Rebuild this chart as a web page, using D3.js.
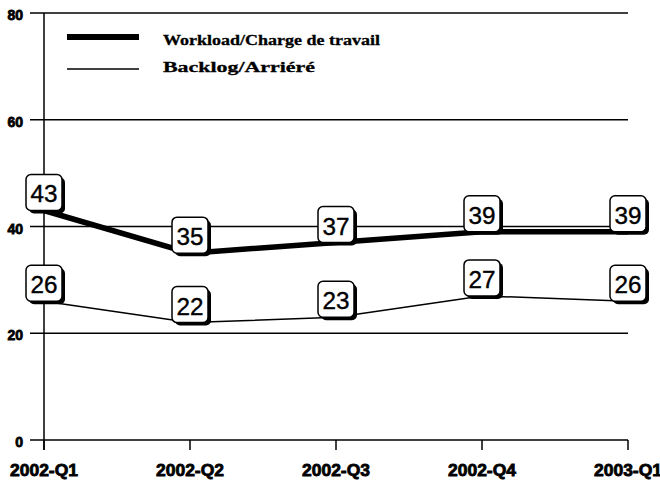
<!DOCTYPE html>
<html lang="en">
<head>
<meta charset="UTF-8">
<title>Workload / Backlog</title>
<script src="https://cdn.jsdelivr.net/npm/d3@7"></script>
<style>
  body { margin: 0; background: #fff; }
  svg { display: block; }
  .tick-label { font-family: "Liberation Sans", Arial, sans-serif; font-weight: bold; fill: #000; stroke: #000; stroke-width: 0.8px; }
  .legend-text { font-family: "Liberation Serif", "Times New Roman", serif; font-weight: bold; font-size: 15px; fill: #000; stroke: #000; stroke-width: 0.3px; }
  .val { font-family: "Liberation Sans", Arial, sans-serif; font-size: 24px; fill: #000; stroke: #000; stroke-width: 0.4px; }
</style>
</head>
<body>
<div id="chart"></div>
<script>
// data
var quarters = ["2002-Q1", "2002-Q2", "2002-Q3", "2002-Q4", "2003-Q1"];
var workload = [43, 35, 37, 39, 39];
var backlog = [26, 22, 23, 27, 26];
var yTicks = [0, 20, 40, 60, 80];
var seriesNames = ["Workload/Charge de travail", "Backlog/Arriéré"];

var width = 660, height = 482;

var svg = d3.select("#chart").append("svg")
    .attr("width", width)
    .attr("height", height);

var x = d3.scalePoint().domain(quarters).range([44, 628]);
var y = d3.scaleLinear().domain([0, 80]).range([440, 13]);

// grid lines + y ticks
svg.append("g").selectAll("line")
    .data(yTicks)
    .enter().append("line")
    .attr("x1", 30)
    .attr("x2", x.range()[1])
    .attr("y1", function(d) { return y(d); })
    .attr("y2", function(d) { return y(d); })
    .attr("stroke", "#000")
    .attr("stroke-width", 1.3);

svg.append("g").selectAll("text")
    .data(yTicks)
    .enter().append("text")
    .attr("class", "tick-label")
    .attr("x", 23)
    .attr("y", function(d) { return y(d) + 7; })
    .attr("text-anchor", "end")
    .style("font-size", "14px")
    .text(function(d) { return d; });

// y axis line
svg.append("line")
    .attr("x1", x(quarters[0])).attr("x2", x(quarters[0]))
    .attr("y1", y(80)).attr("y2", y(0) + 10)
    .attr("stroke", "#000")
    .attr("stroke-width", 1.5);

// x ticks
svg.append("g").selectAll("line")
    .data(quarters)
    .enter().append("line")
    .attr("x1", function(d) { return x(d); })
    .attr("x2", function(d) { return x(d); })
    .attr("y1", y(0))
    .attr("y2", y(0) + 10)
    .attr("stroke", "#000")
    .attr("stroke-width", 1.5);

svg.append("g").selectAll("text")
    .data(quarters)
    .enter().append("text")
    .attr("class", "tick-label")
    .attr("x", function(d) { return x(d); })
    .attr("y", 476)
    .attr("text-anchor", "middle")
    .style("font-size", "17px")
    .attr("textLength", 68)
    .attr("lengthAdjust", "spacingAndGlyphs")
    .text(function(d) { return d; });

// lines
var line = d3.line()
    .x(function(d, i) { return x(quarters[i]); })
    .y(function(d) { return y(d); });

svg.append("path")
    .datum(backlog)
    .attr("fill", "none")
    .attr("stroke", "#000")
    .attr("stroke-width", 1.5)
    .attr("d", line);

svg.append("path")
    .datum(workload)
    .attr("fill", "none")
    .attr("stroke", "#000")
    .attr("stroke-width", 5.5)
    .attr("d", line);

// value boxes
function labels(values) {
  var g = svg.append("g").selectAll("g")
      .data(values)
      .enter().append("g")
      .attr("transform", function(d, i) { return "translate(" + x(quarters[i]) + "," + y(d) + ")"; });
  g.append("rect")
      .attr("x", -15).attr("y", -33)
      .attr("width", 36).attr("height", 36)
      .attr("rx", 5)
      .attr("fill", "#000");
  g.append("rect")
      .attr("x", -18).attr("y", -36)
      .attr("width", 36).attr("height", 36)
      .attr("rx", 5)
      .attr("fill", "#fff")
      .attr("stroke", "#000")
      .attr("stroke-width", 1.5);
  g.append("text")
      .attr("class", "val")
      .attr("x", 0)
      .attr("y", -8)
      .attr("text-anchor", "middle")
      .attr("textLength", 27)
      .attr("lengthAdjust", "spacingAndGlyphs")
      .text(function(d) { return d; });
}
labels(workload);
labels(backlog);

// legend
var legend = svg.append("g");
legend.append("line")
    .attr("x1", 67).attr("x2", 139)
    .attr("y1", 37).attr("y2", 37)
    .attr("stroke", "#000").attr("stroke-width", 6);
legend.append("line")
    .attr("x1", 67).attr("x2", 139)
    .attr("y1", 69).attr("y2", 69)
    .attr("stroke", "#000").attr("stroke-width", 1.3);
legend.append("text")
    .attr("class", "legend-text")
    .attr("x", 163).attr("y", 45)
    .attr("textLength", 217)
    .attr("lengthAdjust", "spacingAndGlyphs")
    .text(seriesNames[0]);
legend.append("text")
    .attr("class", "legend-text")
    .attr("x", 163).attr("y", 72)
    .attr("textLength", 152)
    .attr("lengthAdjust", "spacingAndGlyphs")
    .text(seriesNames[1]);
</script>
</body>
</html>
